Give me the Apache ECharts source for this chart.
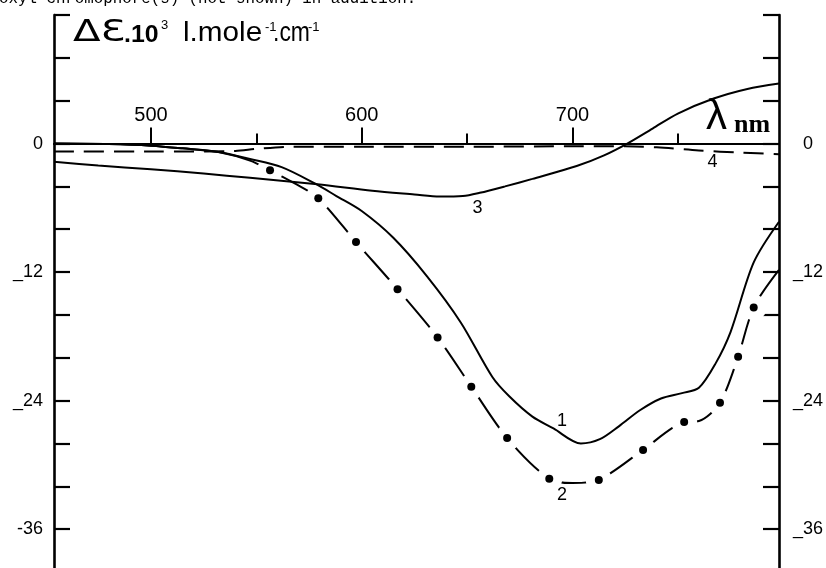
<!DOCTYPE html>
<html>
<head>
<meta charset="utf-8">
<script src="https://cdn.jsdelivr.net/npm/echarts@6/dist/echarts.min.js"></script>
<style>
html, body { margin: 0; padding: 0; background: #fff; }
#chart { width: 826px; height: 568px; }
</style>
</head>
<body>
<div id="chart"></div>
<script>
// wavelength (nm) / delta epsilon (x10^3)
var wave1  = [454, 480, 500, 515, 532, 547, 562, 578, 588, 600, 615, 631, 647, 662, 670, 681, 691, 704, 713, 722, 732, 742, 752, 760, 768, 775, 786, 798];
var delta1 = [0, -0.05, -0.2, -0.45, -0.8, -1.45, -2.2, -3.75, -4.9, -6.3, -8.8, -12.4, -16.7, -21.8, -23.6, -25.5, -26.6, -28.0, -27.6, -26.4, -24.9, -23.8, -23.3, -22.8, -20.5, -17.6, -11.1, -7.3];

var wave2  = [454, 480, 500, 515, 532, 547, 556.5, 568, 579.4, 597.3, 617, 636, 652, 669, 689, 700, 712.5, 733.5, 753, 760, 770, 778.6, 786, 798];
var delta2 = [0, -0.05, -0.2, -0.45, -0.8, -1.6, -2.5, -3.7, -5.1, -9.2, -13.6, -18.1, -22.7, -27.5, -31.3, -31.7, -31.4, -28.6, -26.0, -25.9, -24.2, -19.9, -15.3, -11.8];

// the filled dots sitting on curve 2
var dotWave  = [556.5, 579.4, 597.3, 617, 636, 652, 669, 689, 712.5, 733.5, 753, 770, 778.6, 786];
var dotDelta = [-2.5, -5.1, -9.2, -13.6, -18.1, -22.7, -27.5, -31.3, -31.4, -28.6, -26.0, -24.2, -19.9, -15.3];

var wave3  = [454, 475, 500, 525, 547, 579, 605, 625, 637, 648, 656, 668, 681, 702, 715, 726, 738, 750, 767, 783, 798];
var delta3 = [-1.7, -2.05, -2.4, -2.8, -3.2, -3.8, -4.4, -4.75, -4.95, -4.9, -4.6, -4.0, -3.3, -2.1, -1.1, 0, 1.4, 2.8, 4.2, 5.1, 5.6];

var wave4  = [454, 500, 540, 550, 566, 600, 650, 700, 725, 740, 760, 780, 798];
var delta4 = [-0.75, -0.75, -0.7, -0.5, -0.3, -0.3, -0.3, -0.25, -0.25, -0.35, -0.65, -0.85, -1.0];

var majorTicks = [500, 600, 700];
var minorTicks = [550, 650, 750];
var leftLabels  = { '0': '0', '-12': '_12', '-24': '_24', '-36': '-36' };
var rightLabels = { '0': '  0', '-12': '_12', '-24': '_24', '-36': '_36' };

var curveNames      = ['1', '2', '3', '4'];
var curveLabelWave  = [695, 695, 655, 766.5];
var curveLabelDelta = [-25.9, -32.8, -6.0, -1.7];

function pairs(xs, ys) {
    return xs.map(function (x, i) { return [x, ys[i]]; });
}

var chart = echarts.init(document.getElementById('chart'));
var ink = '#000';
var font = 'Liberation Sans, Arial, sans-serif';

function curve(name, xs, ys, z, dash) {
    return {
        name: name,
        type: 'line',
        z: z,
        data: pairs(xs, ys),
        smooth: 0.3,
        symbol: 'none',
        lineStyle: { color: ink, width: 2, type: dash || 'solid' }
    };
}

function dots(name, size, color, z) {
    return {
        name: name,
        type: 'scatter',
        z: z,
        data: pairs(dotWave, dotDelta),
        symbol: 'circle',
        symbolSize: size,
        itemStyle: { color: color, opacity: 1 }
    };
}

function yAxis(pos, labels, margin) {
    return {
        type: 'value',
        position: pos,
        min: -40,
        max: 12,
        interval: 4,
        axisLine: { show: true, lineStyle: { color: ink, width: 2.6 } },
        axisTick: { show: true, inside: true, length: 16, lineStyle: { color: ink, width: 2.2 } },
        axisLabel: {
            color: ink, fontFamily: font, fontSize: 18, margin: margin,
            formatter: function (v) { return labels[String(v)] || ''; }
        },
        splitLine: { show: false }
    };
}

var option = {
    animation: false,
    backgroundColor: '#fff',
    grid: { left: 54, right: 47, top: 15, bottom: -4, outerBoundsMode: 'none' },
    xAxis: [
        {
            type: 'value', position: 'top', min: 454, max: 798,
            axisLine: { onZero: true, lineStyle: { color: ink, width: 2 } },
            axisTick: { customValues: majorTicks, length: 16, lineStyle: { color: ink, width: 2 } },
            axisLabel: { show: false },
            splitLine: { show: false }
        },
        {
            type: 'value', position: 'bottom', min: 454, max: 798,
            axisLine: { onZero: true, lineStyle: { color: ink, width: 2 } },
            axisTick: { customValues: minorTicks, inside: true, length: 10, lineStyle: { color: ink, width: 2 } },
            axisLabel: { show: false },
            splitLine: { show: false }
        }
    ],
    yAxis: [yAxis('left', leftLabels, 11), yAxis('right', rightLabels, 14)],
    series: [
        // curve 2: a line broken round each dot by a white halo
        curve('2', wave2, delta2, 2),
        dots('2 gaps', 26, '#fff', 3),
        dots('2 dots', 8, ink, 4),
        curve('1', wave1, delta1, 5),
        curve('3', wave3, delta3, 5),
        curve('4', wave4, delta4, 5, [20, 10])
    ]
};
chart.setOption(option);

function label(text, x, y, css, extra) {
    var el = {
        type: 'text', x: x, y: y, z: 100,
        style: { text: text, fill: ink, font: css, verticalAlign: 'middle' }
    };
    for (var k in extra) el[k] = extra[k];
    return el;
}

var graphics = [
    label('oxyl chromophore(s) (not shown) in addition.', -1, -1, '15.8px "Liberation Mono", monospace'),
    // ylabel pieces: ΔƐ.10³ l.mole⁻¹.cm⁻¹
    label('Δ\u0190', 73, 33, '31px "DejaVu Sans", sans-serif', { scaleX: 1.3 }),
    label('.10', 124, 35.5, 'bold 23px "Liberation Sans", sans-serif', { scaleX: 1.08 }),
    label('3', 161, 25.5, '13px "Liberation Sans", sans-serif'),
    label('l.mole', 183, 34, '27px "Liberation Sans", sans-serif', { scaleX: 1.1 }),
    label('-1', 265, 27.5, '13px "Liberation Sans", sans-serif'),
    label('.cm', 273, 34, '27px "Liberation Sans", sans-serif', { scaleX: 0.85 }),
    label('-1', 308, 27.5, '13px "Liberation Sans", sans-serif'),
    label('λ', 706, 117, '42px "Liberation Sans", sans-serif'),
    label('nm', 734, 125, 'bold 26px "Liberation Serif", serif')
];

majorTicks.forEach(function (t) {
    var p = chart.convertToPixel({ xAxisIndex: 0, yAxisIndex: 0 }, [t, 0]);
    graphics.push({
        type: 'text', x: p[0], y: p[1] - 18, z: 100,
        style: { text: String(t), fill: ink, font: '20px "Liberation Sans", sans-serif', align: 'center', verticalAlign: 'bottom' }
    });
});

curveNames.forEach(function (n, i) {
    var p = chart.convertToPixel({ xAxisIndex: 0, yAxisIndex: 0 }, [curveLabelWave[i], curveLabelDelta[i]]);
    graphics.push({
        type: 'text', x: p[0], y: p[1], z: 100,
        style: { text: n, fill: ink, font: '18px "Liberation Sans", sans-serif', align: 'center', verticalAlign: 'middle' }
    });
});

chart.setOption({ graphic: graphics });
</script>
</body>
</html>
